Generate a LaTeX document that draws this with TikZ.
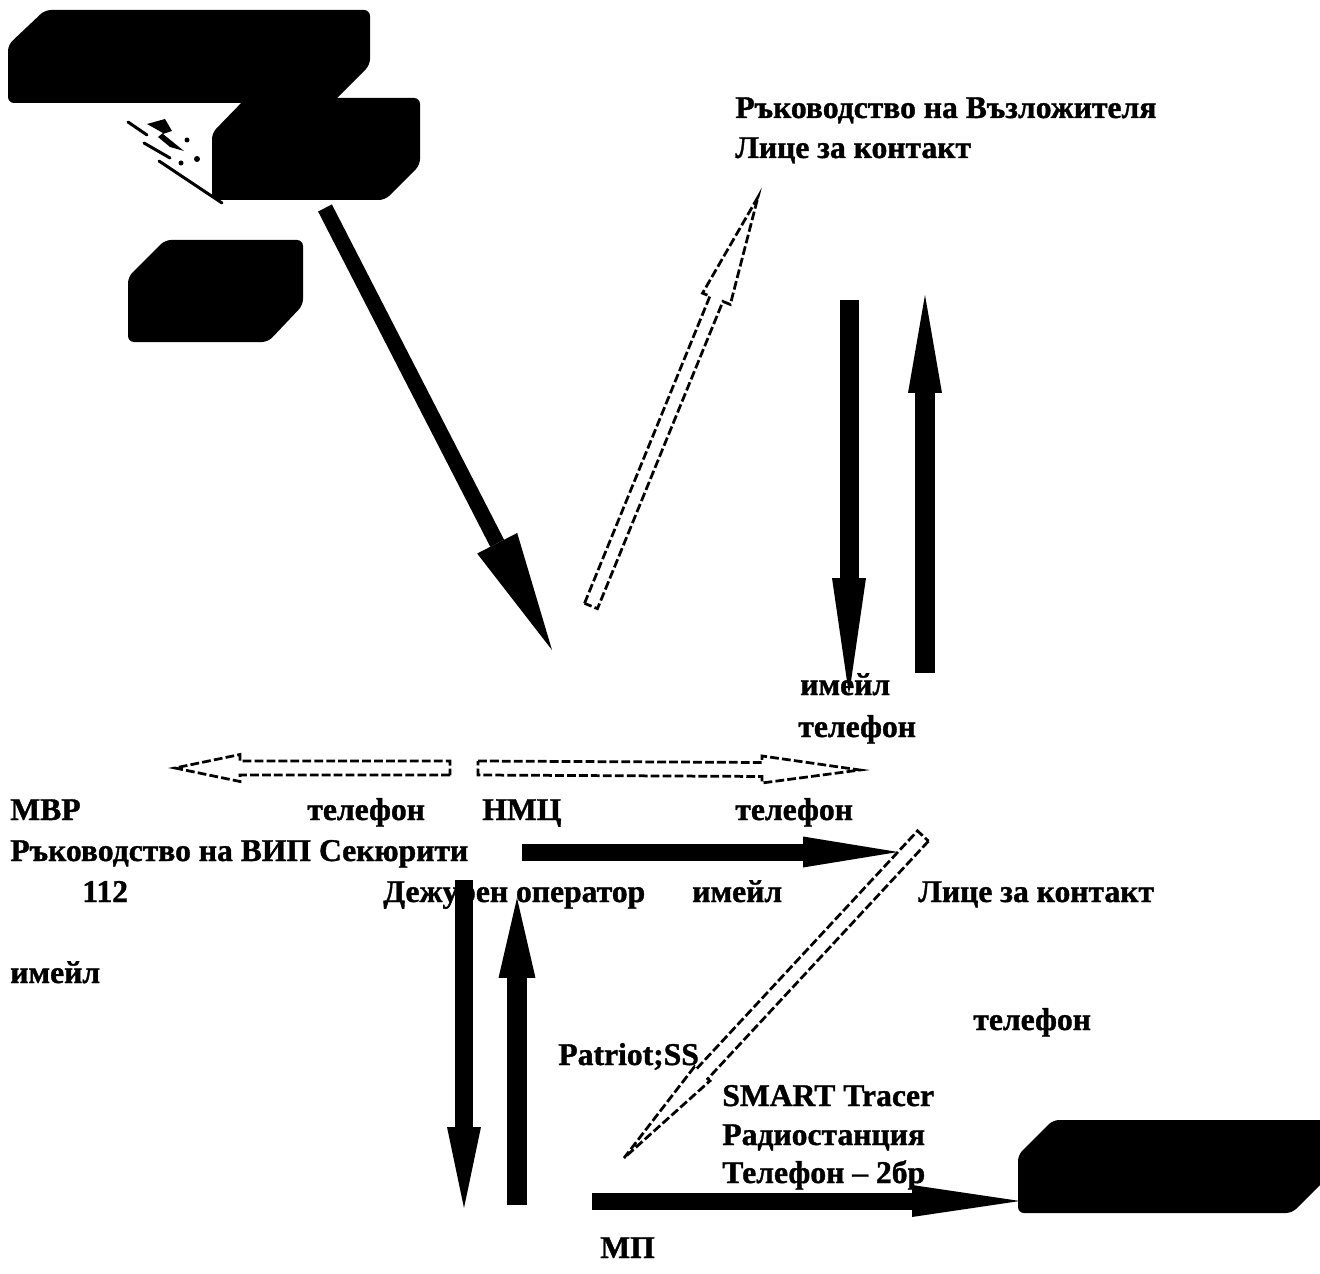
\documentclass[tikz,border=0pt]{standalone}
\usepackage{fontspec}
\setmainfont[BoldFeatures={FakeBold=1.2}]{Liberation Serif}
\usetikzlibrary{arrows.meta,calc}

\newcommand{\hollowarrow}[5]{% tail, tip, half shaft, half head, head length
  \coordinate (hb) at ($(#2)!#5!(#1)$);
  \draw[hollow] ($(#1)!#3!90:(#2)$) -- ($(hb)!#3!90:(#2)$) -- ($(hb)!#4!90:(#2)$) -- (#2)
    -- ($(hb)!#4!-90:(#2)$) -- ($(hb)!#3!-90:(#2)$) -- ($(#1)!#3!-90:(#2)$) -- cycle;}

\begin{document}
\begin{tikzpicture}[x=0.02cm, y=-0.02cm,
    lbl/.style={anchor=base west, inner sep=0pt, font=\fontsize{18}{21}\selectfont\bfseries},
    redact/.style={fill=black, rounded corners=0.12cm},
    blk/.style n args={3}{draw=black, line width=#1,
      -{Triangle[length=#2, width=#3, line width=0pt]}},
    hollow/.style={draw=black, fill=white, line width=0.055cm,
      dash pattern=on 5pt off 1.8pt, line join=miter},
    spark/.style={line width=0.06cm, line cap=round}
  ]
    \useasboundingbox (0,0) rectangle (1320,1274);

    % blacked-out boxes
    \path[redact] (8,45) -- (45,10) -- (370,10) -- (370,65) -- (332,103) -- (8,103) -- cycle;
    \path[redact] (212,133) -- (246,98) -- (420,98) -- (420,165) -- (385,200) -- (212,200) -- cycle;
    \path[redact] (128,277) -- (165,240) -- (303,240) -- (303,305) -- (268,342) -- (128,342) -- cycle;
    \path[redact] (1018,1155) -- (1053,1120) -- (1329,1120) -- (1329,1176) -- (1292,1213) -- (1018,1213) -- cycle;

    % spark between the top boxes
    \draw[spark] (128,122) -- (147,135);
    \draw[spark] (144,143) -- (170,158);
    \draw[spark] (159,161) -- (222,203);
    \fill (147,124) -- (165,119) -- (172,131) -- (163,134) -- (184,151) -- (170,147) -- (158,137) -- (163,133) -- cycle;
    \fill (187,140) circle (2.5);
    \fill (197,159) circle (3);
    \fill (181,163) circle (2.5);

    % arrow ends
    \coordinate (b1s) at (325,208);  \coordinate (b1e) at (552,650);
    \coordinate (b2s) at (849,300);  \coordinate (b2e) at (849,695);
    \coordinate (b3s) at (925,673);  \coordinate (b3e) at (925,295);
    \coordinate (b4s) at (522,852);  \coordinate (b4e) at (898,852);
    \coordinate (b5s) at (464,880);  \coordinate (b5e) at (464,1208);
    \coordinate (b6s) at (517,1205); \coordinate (b6e) at (517,898);
    \coordinate (b7s) at (592,1201); \coordinate (b7e) at (1020,1201);
    \coordinate (h1s) at (591,606);  \coordinate (h1e) at (758,197);
    \coordinate (h2s) at (450,768);  \coordinate (h2e) at (175,768);
    \coordinate (h3s) at (478,768);  \coordinate (h3e) at (860,770);
    \coordinate (h4s) at (923,836);  \coordinate (h4e) at (624,1158);

    \draw[blk={0.31cm}{2.4cm}{0.9cm}] (b1s) -- (b1e);
    \draw[blk={0.38cm}{2.34cm}{0.68cm}] (b2s) -- (b2e);
    \draw[blk={0.40cm}{1.96cm}{0.68cm}] (b3s) -- (b3e);
    \draw[blk={0.34cm}{1.9cm}{0.62cm}] (b4s) -- (b4e);
    \draw[blk={0.36cm}{1.62cm}{0.68cm}] (b5s) -- (b5e);
    \draw[blk={0.40cm}{1.6cm}{0.74cm}] (b6s) -- (b6e);
    \draw[blk={0.34cm}{2.16cm}{0.64cm}] (b7s) -- (b7e);

    \hollowarrow{h1s}{h1e}{0.14cm}{0.3cm}{2.2cm}
    \hollowarrow{h2s}{h2e}{0.14cm}{0.27cm}{1.3cm}
    \hollowarrow{h3s}{h3e}{0.14cm}{0.27cm}{1.96cm}
    \hollowarrow{h4s}{h4e}{0.15cm}{0.21cm}{2.3cm}

    % labels
    \node[lbl] (client) at (735,118) {Ръководство на Възложителя};
    \node[lbl] (clientcontact) at (735,158) {Лице за контакт};
    \node[lbl] (mail1) at (800,695) {имейл};
    \node[lbl] (tel1) at (798,737) {телефон};
    \node[lbl] (mvr) at (10,820) {МВР};
    \node[lbl] (tel2) at (307,820) {телефон};
    \node[lbl] (nmc) at (482,820) {НМЦ};
    \node[lbl] (tel3) at (735,820) {телефон};
    \node[lbl] (viplead) at (10,861) {Ръководство на ВИП Секюрити};
    \node[lbl] (n112) at (82,902) {112};
    \node[lbl] (duty) at (383,902) {Дежурен оператор};
    \node[lbl] (mail2) at (692,902) {имейл};
    \node[lbl] (contact) at (918,902) {Лице за контакт};
    \node[lbl] (mail3) at (10,983) {имейл};
    \node[lbl] (tel4) at (973,1030) {телефон};
    \node[lbl] (patriot) at (558,1065) {Patriot;SS};
    \node[lbl] (smart) at (722,1106) {SMART Tracer};
    \node[lbl] (radio) at (722,1145) {Радиостанция};
    \node[lbl] (phone) at (722,1183) {Телефон – 2бр};
    \node[lbl] (mp) at (600,1258) {МП};
\end{tikzpicture}
\end{document}
